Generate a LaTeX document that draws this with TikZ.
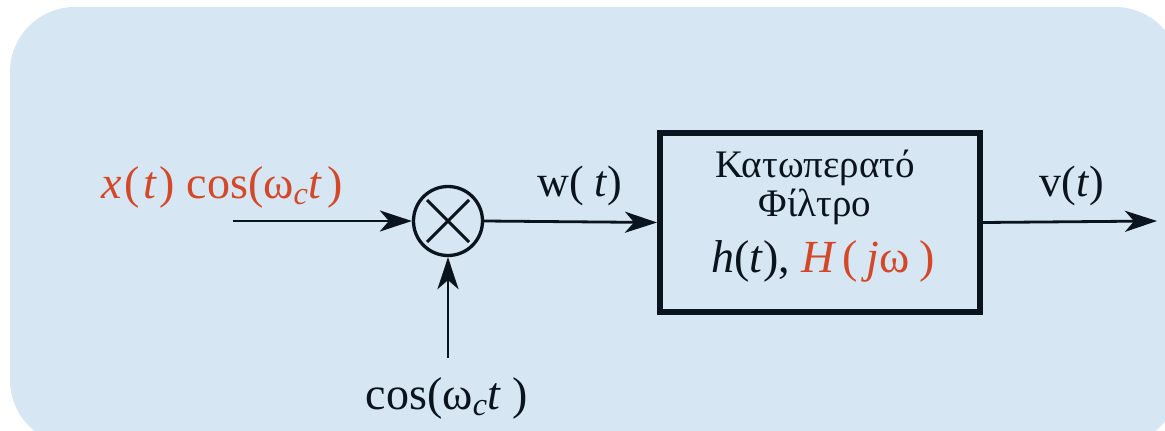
\documentclass[tikz,border=0pt]{standalone}
\usepackage{fontspec}
\setmainfont{Liberation Serif}
\usetikzlibrary{arrows.meta,calc}
\definecolor{bgblue}{RGB}{214,230,242}
\definecolor{sigred}{RGB}{212,72,42}
\definecolor{ink}{RGB}{10,20,30}
\newcommand{\iv}[1]{\textit{#1}}
\begin{document}
\begin{tikzpicture}[x=1pt,y=-1pt,
  conn/.style={draw=ink, line width=2.8pt, -{Stealth[length=32pt,width=21pt,inset=9pt]}},
  lbl/.style={inner sep=0pt, text=ink},
  big/.style={font=\fontsize{46}{50}\selectfont},
  mid/.style={font=\fontsize{44}{48}\selectfont},
  greek/.style={font=\fontsize{39}{42}\selectfont}]
\useasboundingbox (0,0) rectangle (1165,431);
\begin{scope}
\clip (0,0) rectangle (1165,431);
\fill[bgblue, rounded corners=65pt] (10,7) rectangle (1180,445);
\end{scope}
% multiplier
\node[draw=ink, line width=3.3pt, circle, minimum size=69pt, inner sep=0pt] (mul) at (448,221) {};
\draw[ink, line width=3pt] ($(mul.center)+(-21,-21)$) -- ($(mul.center)+(21,21)$);
\draw[ink, line width=3pt] ($(mul.center)+(-21,21)$) -- ($(mul.center)+(21,-21)$);
% box
\node[draw=ink, line width=6pt, minimum width=320pt, minimum height=179pt, inner sep=0pt] (lpf) at (820,222.5) {};
\node[lbl, greek] (t1) at (815,168) {Κατωπερατό};
\node[lbl, greek] (t2) at (815,207) {Φίλτρο};
\node[lbl, big] (t3) at (823,261) {\iv{h}(\iv{t}), \textcolor{sigred}{\iv{H}\hspace{6pt}(\hspace{8pt}\iv{j}ω\hspace{10pt})}};
% coordinates
\coordinate (in) at (233,221);
\coordinate (out) at (1157,221);
\coordinate (carrier) at (448,358);
% labels
\node[lbl, big, text=sigred] (xin) at (222,187) {\iv{x}\hspace{3pt}(\hspace{3pt}\iv{t}\hspace{3pt})\ cos(ω\textsubscript{\iv{c}}\iv{t}\hspace{5pt})};
\node[lbl, mid] (wl) at (580,186) {w( \iv{t})};
\node[lbl, mid] (vl) at (1072,186) {v(\iv{t})};
\node[lbl, big] (cl) at (447,398) {cos(ω\textsubscript{\iv{c}}\iv{t} )};
% connectors
\draw[conn] (in) -- (mul.west);
\draw[conn] (mul.east) -- (lpf.west);
\draw[conn] (lpf.east) -- (out);
\draw[conn] (carrier) -- (mul.south);
\end{tikzpicture}
\end{document}
